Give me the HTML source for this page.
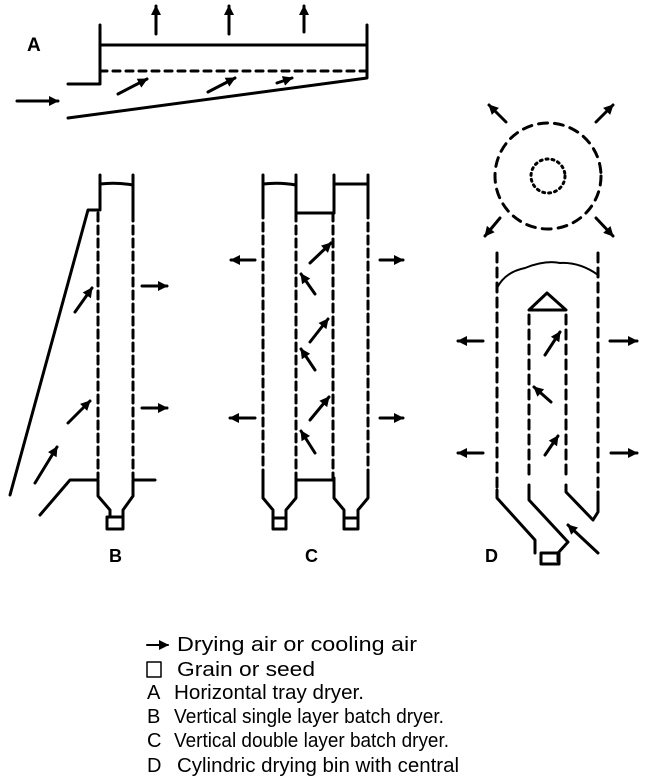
<!DOCTYPE html>
<html><head><style>
html,body{margin:0;padding:0;background:#fff;}
svg{display:block;}
text{font-family:"Liberation Sans",sans-serif;fill:#000;}
</style></head><body>
<svg width="651" height="784" viewBox="0 0 651 784" xmlns="http://www.w3.org/2000/svg">
<defs>
<marker id="a" viewBox="0 0 10 10" refX="9" refY="5" markerWidth="13" markerHeight="10" orient="auto" markerUnits="userSpaceOnUse"><path d="M0,0 L10,5 L0,10 z"/></marker>
</defs>
<g fill="none" stroke="#000" stroke-width="3" stroke-linejoin="round" stroke-linecap="round">
<!-- A -->
<path d="M68,84 H100 V25"/>
<path d="M100,45 H367"/>
<path d="M367,25 V78 L68,118"/>
<path d="M100,71 H367" stroke-dasharray="7,6"/>
<line x1="156" y1="34" x2="156" y2="6" marker-end="url(#a)"/>
<line x1="229" y1="34" x2="229" y2="6" marker-end="url(#a)"/>
<line x1="304" y1="32" x2="304" y2="6" marker-end="url(#a)"/>
<line x1="17" y1="101" x2="58" y2="101" marker-end="url(#a)"/>
<line x1="118" y1="94" x2="147" y2="79" marker-end="url(#a)"/>
<line x1="208" y1="92" x2="235" y2="78" marker-end="url(#a)"/>
<line x1="277" y1="83" x2="292" y2="78" marker-end="url(#a)"/>
<!-- B -->
<path d="M100,175 V210 H88 L10,495"/>
<path d="M133,175 V213"/>
<path d="M100,184 Q116,182 133,185"/>
<path d="M98,213 V478 M133,213 V478" stroke-dasharray="8,5"/>
<path d="M40,515 L70,480 H98 V496 L110,510 V517 M133,480 H155 M133,480 V496 L123,510 V517"/>
<rect x="107" y="517" width="16" height="12"/>
<line x1="75" y1="312" x2="92" y2="288" marker-end="url(#a)"/>
<line x1="68" y1="423" x2="90" y2="401" marker-end="url(#a)"/>
<line x1="35" y1="483" x2="57" y2="447" marker-end="url(#a)"/>
<line x1="142" y1="286" x2="167" y2="286" marker-end="url(#a)"/>
<line x1="142" y1="408" x2="167" y2="408" marker-end="url(#a)"/>
<!-- C -->
<path d="M263,175 V210 M296,175 V213 M334,175 V213 M368,175 V210"/>
<path d="M263,184 Q280,182 296,185 M334,184 H368"/>
<path d="M296,213 H334 M296,480 H334"/>
<path d="M263,210 V478 M296,213 V478 M333,213 V478 M368,210 V478" stroke-dasharray="8,5"/>
<path d="M263,478 V498 L273,510 V518 M296,478 V498 L286,510 V518 M334,478 V498 L344,510 V518 M368,478 V498 L358,510 V518"/>
<rect x="273" y="518" width="13" height="11"/>
<rect x="344" y="518" width="14" height="11"/>
<line x1="255" y1="260" x2="231" y2="260" marker-end="url(#a)"/>
<line x1="255" y1="418" x2="230" y2="418" marker-end="url(#a)"/>
<line x1="380" y1="260" x2="403" y2="260" marker-end="url(#a)"/>
<line x1="380" y1="418" x2="403" y2="418" marker-end="url(#a)"/>
<line x1="310" y1="263" x2="331" y2="243" marker-end="url(#a)"/>
<line x1="315" y1="294" x2="301" y2="274" marker-end="url(#a)"/>
<line x1="310" y1="342" x2="328" y2="319" marker-end="url(#a)"/>
<line x1="315" y1="370" x2="301" y2="349" marker-end="url(#a)"/>
<line x1="310" y1="420" x2="329" y2="397" marker-end="url(#a)"/>
<line x1="315" y1="453" x2="301" y2="431" marker-end="url(#a)"/>
<!-- D -->
<circle cx="548" cy="176" r="53" stroke-dasharray="9,7"/>
<circle cx="548" cy="176" r="17" stroke-dasharray="2,4"/>
<line x1="506" y1="122" x2="489" y2="105" marker-end="url(#a)"/>
<line x1="596" y1="122" x2="613" y2="105" marker-end="url(#a)"/>
<line x1="500" y1="218" x2="485" y2="236" marker-end="url(#a)"/>
<line x1="596" y1="218" x2="613" y2="236" marker-end="url(#a)"/>
<path d="M497,253 V490 M598,253 V490 M529,315 V480 M566,315 V480" stroke-dasharray="9,6"/>
<path d="M497,288 Q505,272 525,268 Q545,260 560,263 Q580,262 598,275" stroke-width="2"/>
<path d="M529,310 L547,293 L566,310 Z"/>
<path d="M497,490 V498 L535,540 V553 M529,485 V500 L568,542 L558,553 V561 M566,485 V492 L593,520 L598,512 V492"/>
<rect x="541" y="553" width="18" height="11"/>
<line x1="598" y1="553" x2="568" y2="525" marker-end="url(#a)"/>
<line x1="483" y1="341" x2="458" y2="341" marker-end="url(#a)"/>
<line x1="483" y1="453" x2="458" y2="453" marker-end="url(#a)"/>
<line x1="610" y1="341" x2="637" y2="341" marker-end="url(#a)"/>
<line x1="611" y1="453" x2="637" y2="453" marker-end="url(#a)"/>
<line x1="545" y1="355" x2="560" y2="332" marker-end="url(#a)"/>
<line x1="551" y1="402" x2="534" y2="387" marker-end="url(#a)"/>
<line x1="545" y1="455" x2="558" y2="436" marker-end="url(#a)"/>
<!-- legend icons -->
<line x1="147" y1="645" x2="168" y2="645" stroke-width="2" marker-end="url(#a)"/>
<rect x="147" y="662" width="14" height="15" stroke-width="1.5"/>
</g>
<text x="27" y="51" font-size="19" font-weight="bold">A</text>
<text x="109" y="562" font-size="18" font-weight="bold">B</text>
<text x="305" y="562" font-size="18" font-weight="bold">C</text>
<text x="485" y="562" font-size="18" font-weight="bold">D</text>
<g font-size="20">
<text x="177" y="651" textLength="240" lengthAdjust="spacingAndGlyphs">Drying air or cooling air</text>
<text x="177" y="676" textLength="138" lengthAdjust="spacingAndGlyphs">Grain or seed</text>
<text x="147" y="699">A</text><text x="174" y="699" textLength="190" lengthAdjust="spacingAndGlyphs">Horizontal tray dryer.</text>
<text x="147" y="723">B</text><text x="174" y="723" textLength="270" lengthAdjust="spacingAndGlyphs">Vertical single layer batch dryer.</text>
<text x="147" y="747">C</text><text x="174" y="747" textLength="275" lengthAdjust="spacingAndGlyphs">Vertical double layer batch dryer.</text>
<text x="147" y="772">D</text><text x="177" y="772" textLength="282" lengthAdjust="spacingAndGlyphs">Cylindric drying bin with central</text>
</g>
</svg>
</body></html>
